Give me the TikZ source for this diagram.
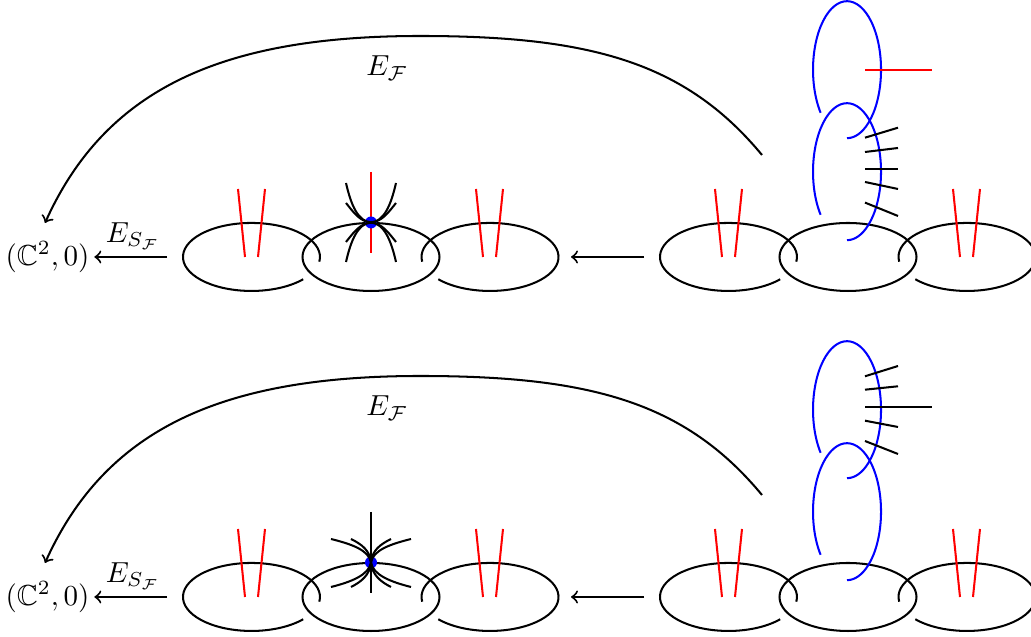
\documentclass[tikz,border=0pt]{standalone}
\usepackage{amsmath,amssymb}
\tikzset{
  dv/.style={line width=0.7pt},
  redln/.style={line width=0.7pt,red},
  blueln/.style={line width=0.7pt,blue},
  arr/.style={line width=0.7pt,->},
  lab/.style={inner sep=1.5pt},
}
% one chain of three curves, centre curve at x = #1 + 371
\newcommand{\chainrow}[1]{%
  \begin{scope}[shift={(#1,0)}]
    \draw[dv] (319.3,-261.7) arc[start angle=-8,delta angle=327,x radius=68.5,y radius=34];
    \draw[dv] (371,-257) ellipse[x radius=68.5,y radius=34];
    \draw[dv] (422.2,-261.7) arc[start angle=188,delta angle=-327,x radius=68.5,y radius=34];
    \draw[redln] (238,-189) -- (245,-257);
    \draw[redln] (265,-189) -- (258,-257);
    \draw[redln] (476,-189) -- (483,-257);
    \draw[redln] (503,-189) -- (496,-257);
  \end{scope}}
% blue arc with centre height #1
\newcommand{\bluearc}[1]{%
  \draw[blueln] (820.6,{-#1-42.8}) arc[start angle=219,end angle=-90,x radius=34,y radius=68.5];}
% common parts of a row
\newcommand{\rowcommon}{%
  \chainrow{0}
  \chainrow{477}
  \node[lab] (cc) at (47.5,-257) {$(\mathbb{C}^2,0)$};
  \coordinate (s1) at (167,-257);
  \draw[arr] (s1) -- (cc);
  \node[lab] (es) at (133,-236) {$E_{S_{\mathcal{F}}}$};
  \node[lab] (ef) at (387,-68) {$E_{\mathcal{F}}$};
  \coordinate (s2) at (644,-257);
  \coordinate (e2) at (571,-257);
  \draw[arr] (s2) -- (e2);
  \coordinate (s3) at (762,-155);
  \coordinate (e3) at (45,-223);
  \draw[arr] (s3) .. controls (685,-62) and (590,-36) .. (420,-36) .. controls (220,-36) and (105,-90) .. (e3);
}
\begin{document}
\begin{tikzpicture}[x=0.345pt,y=0.345pt]
\useasboundingbox (0,0) rectangle (1031,-637);
% top row
\rowcommon
\draw[redln] (371,-172) -- (371,-253);
\fill[blue] (371,-222.5) circle (6);
\foreach \sx in {1,-1}{
  \draw[dv] ({371+\sx*25},-183) .. controls ({371+\sx*20},-205) and ({371+\sx*13},-221.5) .. (371,-222.5);
  \draw[dv] ({371+\sx*25},-203) .. controls ({371+\sx*17},-213) and ({371+\sx*11},-221.5) .. (371,-222.5);
  \draw[dv] ({371+\sx*25},-262) .. controls ({371+\sx*20},-240) and ({371+\sx*13},-223.5) .. (371,-222.5);
  \draw[dv] ({371+\sx*25},-242) .. controls ({371+\sx*17},-232) and ({371+\sx*11},-223.5) .. (371,-222.5);
}
\bluearc{70}
\bluearc{172}
\draw[redln] (865,-70) -- (932,-70);
\draw[dv] (865,-137.7) -- (898,-127.7);
\draw[dv] (865,-152) -- (898,-148);
\draw[dv] (865,-168.7) -- (898,-168.7);
\draw[dv] (865,-182) -- (898,-189);
\draw[dv] (865,-202.6) -- (898,-216);
% bottom row
\begin{scope}[shift={(0,-340)}]
  \rowcommon
  \bluearc{70}
  \bluearc{172}
  \fill[blue] (371,-222.5) circle (6);
  \draw[dv] (371,-172) -- (371,-253);
  \foreach \sx in {1,-1}{
    \draw[dv] ({371+\sx*40},-199) .. controls ({371+\sx*20},-204) and ({371+\sx*2},-210) .. (371,-222.5);
    \draw[dv] ({371+\sx*20},-199) .. controls ({371+\sx*10},-204) and ({371+\sx*1},-210) .. (371,-222.5);
    \draw[dv] ({371+\sx*40},-247) .. controls ({371+\sx*20},-242) and ({371+\sx*2},-235) .. (371,-222.5);
    \draw[dv] ({371+\sx*20},-247) .. controls ({371+\sx*10},-242) and ({371+\sx*1},-235) .. (371,-222.5);
  }
  \draw[dv] (865,-36.3) -- (898,-26);
  \draw[dv] (865,-49.7) -- (898,-46.3);
  \draw[dv] (865,-66.7) -- (932,-66.7);
  \draw[dv] (865,-80.7) -- (898,-87);
  \draw[dv] (865,-101) -- (898,-114);
\end{scope}
\end{tikzpicture}
\end{document}
